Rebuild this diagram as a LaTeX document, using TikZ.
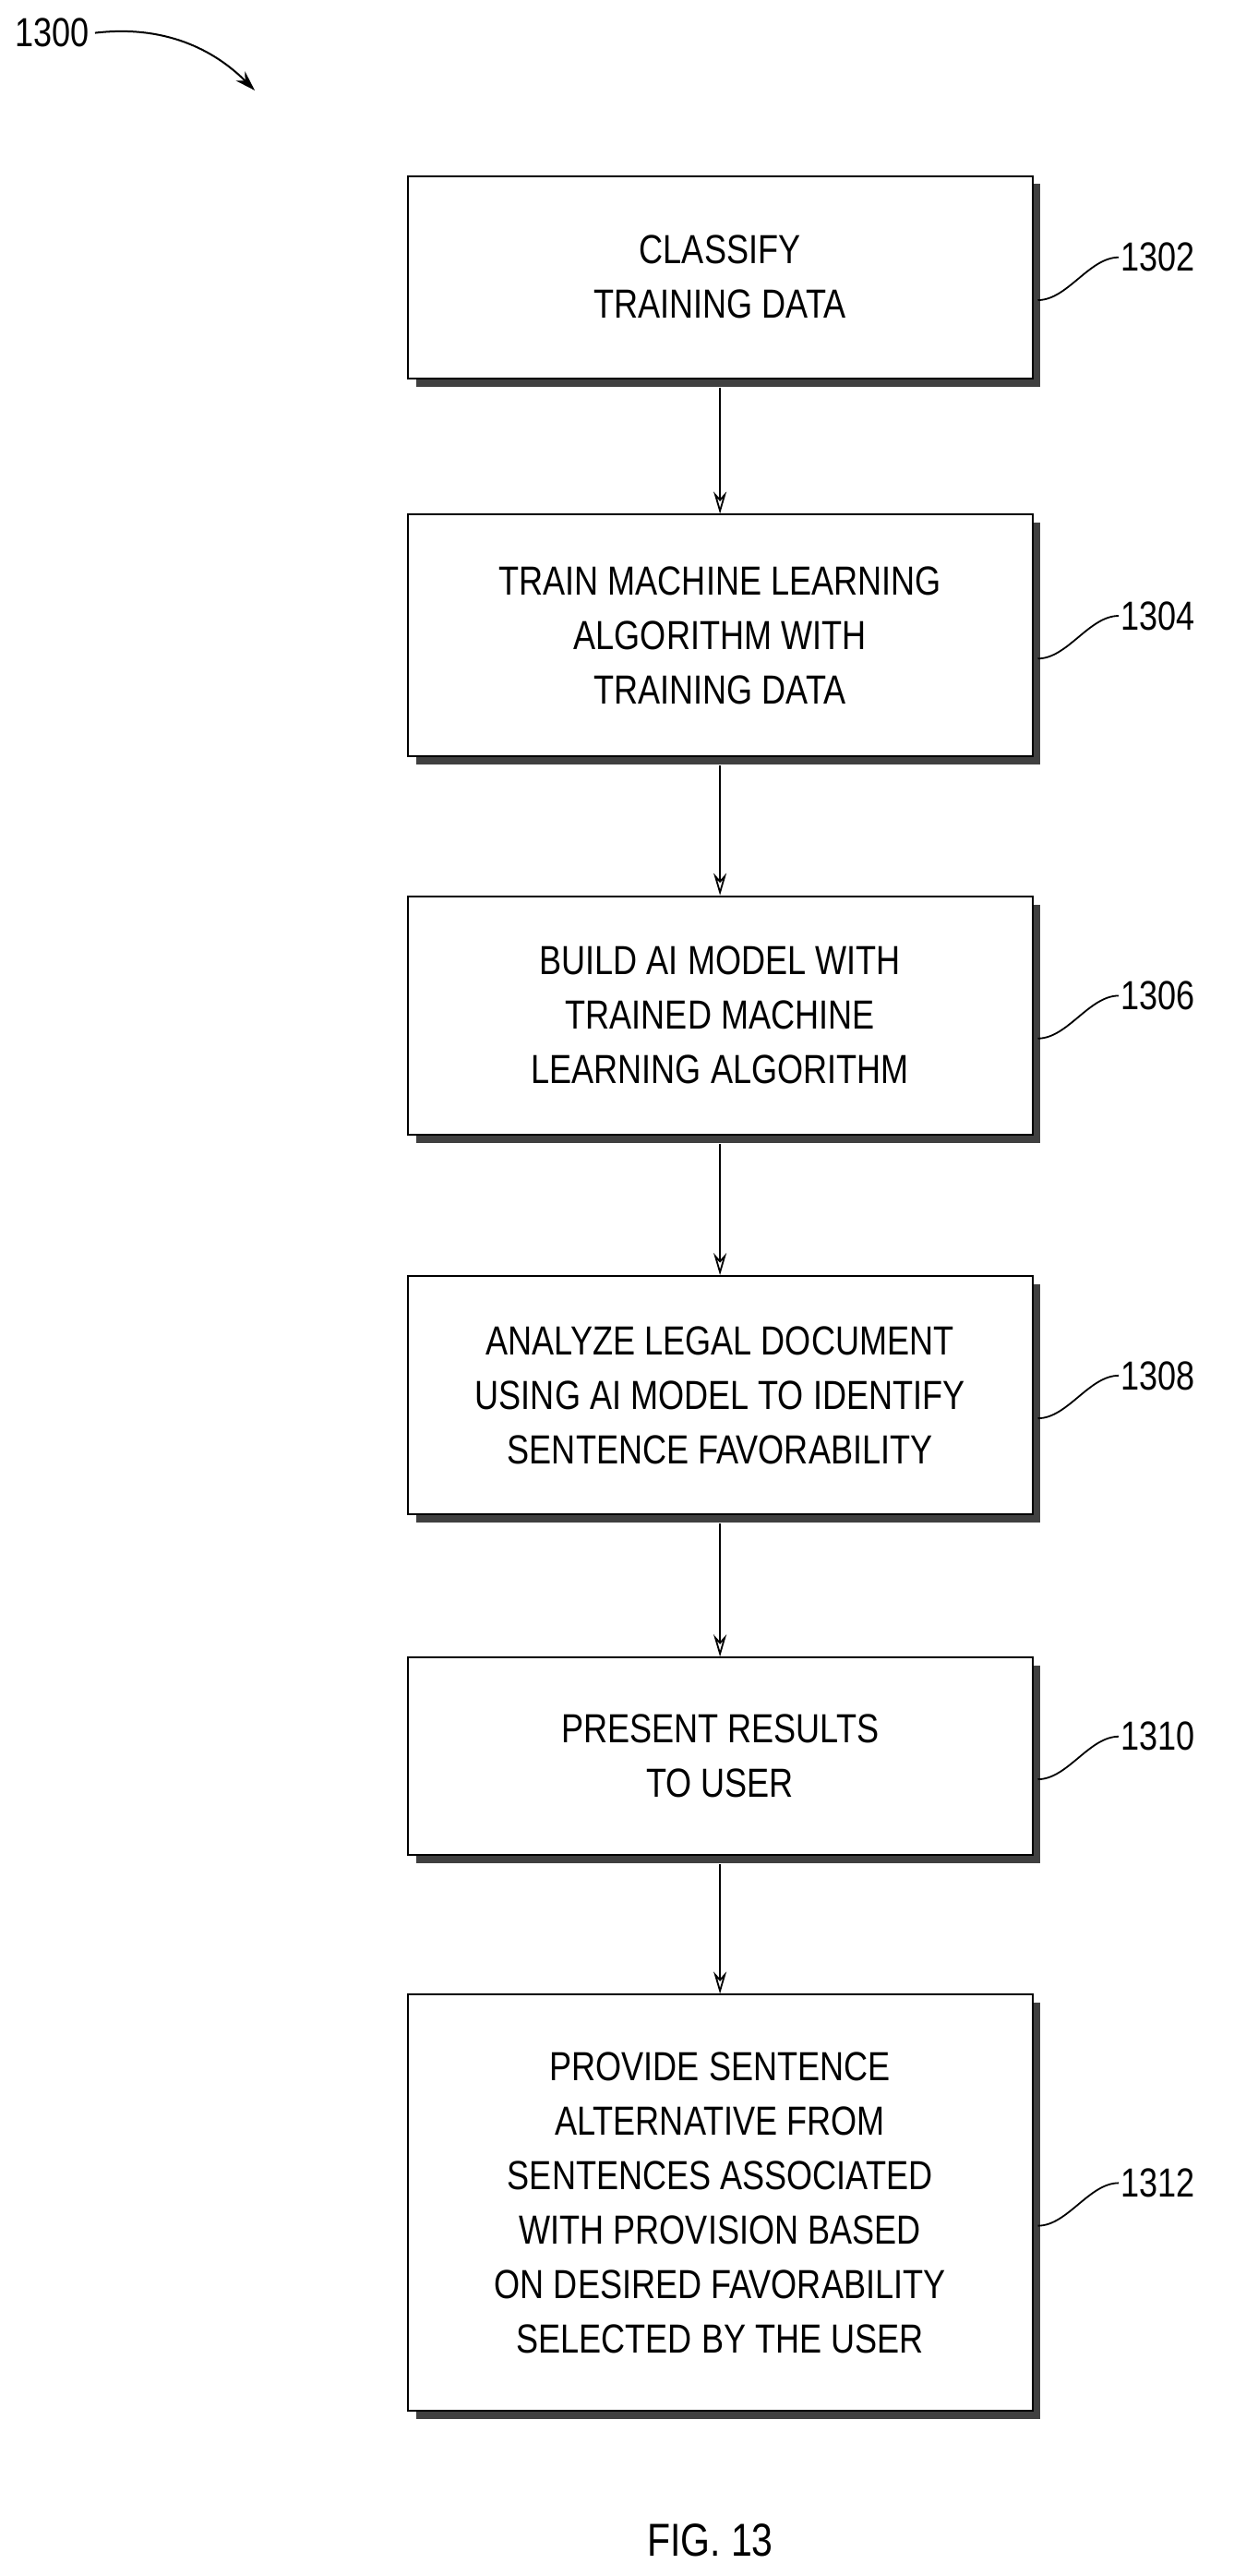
\documentclass[tikz,border=0pt]{standalone}
\usepackage{fontspec}
\setmainfont{Liberation Sans}[FakeStretch=0.82]
\usetikzlibrary{arrows.meta}
\begin{document}
\begin{tikzpicture}[x=1.781pt,y=-1.781pt,
  box/.style={draw,line width=2pt,fill=white,minimum width=380*1.781pt,align=center,
    font=\fontsize{44}{59}\selectfont,inner sep=0pt},
  shad/.style={fill=black!75},
  lbl/.style={font=\fontsize{44}{50}\selectfont,anchor=west,inner sep=2pt},
  arr/.style={line width=1.8pt,-{Stealth[length=24pt,width=14pt,open]}},
  lead/.style={line width=1.8pt}]
\useasboundingbox (0,0) rectangle (750.2,1566.5);
\def\bx#1#2#3#4{% name, top, bottom, text
  \fill[shad] (253,#2+5) rectangle (633,#3+5);
  \node[box,minimum height=(#3-#2)*1.781pt] (#1) at (438,{(#2+#3)/2}) {#4};}
\bx{b1}{107}{230}{CLASSIFY\\TRAINING DATA}
\bx{b2}{313}{460}{TRAIN MACHINE LEARNING\\ALGORITHM WITH\\TRAINING DATA}
\bx{b3}{545}{690}{BUILD AI MODEL WITH\\TRAINED MACHINE\\LEARNING ALGORITHM}
\bx{b4}{776}{921}{ANALYZE LEGAL DOCUMENT\\USING AI MODEL TO IDENTIFY\\SENTENCE FAVORABILITY}
\bx{b5}{1008}{1128}{PRESENT RESULTS\\TO USER}
\bx{b6}{1213}{1466}{PROVIDE SENTENCE\\ALTERNATIVE FROM\\SENTENCES ASSOCIATED\\WITH PROVISION BASED\\ON DESIRED FAVORABILITY\\SELECTED BY THE USER}
\foreach \a/\b in {b1/b2,b2/b3,b3/b4,b4/b5,b5/b6}
  \draw[arr] ([yshift=-9pt]\a.south) -- (\b.north);
\foreach \n/\t in {b1/1302,b2/1304,b3/1306,b4/1308,b5/1310,b6/1312}{
  \node[lbl] (l\n) at ([xshift=52*1.781pt,yshift=12*1.781pt]\n.east) {\t};
  \draw[lead] ([xshift=5pt,yshift=-14*1.781pt]\n.east) .. controls +(18*1.781pt,0) and +(-18*1.781pt,0) .. (l\n.west);}
\node[lbl] (l0) at (8,20) {1300};
\coordinate (t0) at (155,55);
\draw[line width=2pt,-{Stealth[length=22pt,width=14pt]}] ([xshift=4pt]l0.east) .. controls (100,15) and (130,30) .. (t0);
\node[font=\fontsize{50}{55}\selectfont] (fig) at (432,1545) {FIG. 13};
\end{tikzpicture}
\end{document}
